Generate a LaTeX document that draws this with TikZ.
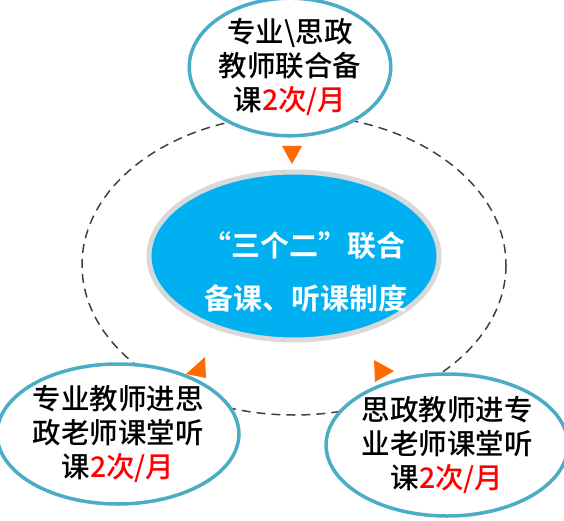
\documentclass[tikz,border=0pt]{standalone}
\usepackage{fontspec}
\setmainfont{Noto Sans CJK SC}
\newfontfamily\cjk{Noto Sans CJK SC Medium}
\newfontfamily\cjkb{Noto Sans CJK SC Bold}
\usetikzlibrary{shapes.geometric}
\definecolor{ringteal}{HTML}{4BACC6}
\definecolor{coreblue}{HTML}{00B0F0}
\definecolor{coregray}{HTML}{D9D9D9}
\definecolor{arrorange}{HTML}{FF6A00}
\definecolor{numred}{HTML}{FF0000}
\tikzset{
  outerell/.style={ellipse, draw=ringteal, line width=3.5pt, fill=white, inner sep=0pt, align=center, font=\cjk\fontsize{28.5}{34}\selectfont},
  coreell/.style={ellipse, draw=coregray, line width=5pt, fill=coreblue, inner sep=0pt},
  tri/.style={fill=arrorange, draw=none},
  ring/.style={draw=black!75, line width=1.5pt, dash pattern=on 9pt off 6pt},
  coretext/.style={text=white, font=\cjkb\fontsize{29}{34}\selectfont, anchor=west, inner sep=0pt}
}
\newcommand{\rd}[1]{\textcolor{numred}{#1}}
\begin{document}
\begin{tikzpicture}[x=1pt,y=-1pt]
\useasboundingbox (0,0) rectangle (564,521);
\draw[ring] (294,265) ellipse [x radius=212, y radius=150];
\node[coreell, minimum width=290, minimum height=168] (core) at (294,256) {};
\node[coretext] (c1) at (202,245) {“三个二”联合};
\node[coretext] (c2) at (204,298) {备课、听课制度};
\node[outerell, minimum width=196, minimum height=126] (top) at (290,67) {专业\textbackslash 思政\\教师联合备\\课\rd{2次/月}};
\node[outerell, minimum width=228, minimum height=140] (bl) at (118,434) {专业教师进思\\政老师课堂听\\课\rd{2次/月}};
\node[outerell, minimum width=228, minimum height=142] (br) at (447,445) {思政教师进专\\业老师课堂听\\课\rd{2次/月}};
\fill[tri] (282,146) -- (302,146) -- (292,164) -- cycle;
\fill[tri] (186,374) -- (205,357) -- (206,378) -- cycle;
\fill[tri] (374,360) -- (394,371) -- (375,382) -- cycle;
\end{tikzpicture}
\end{document}
